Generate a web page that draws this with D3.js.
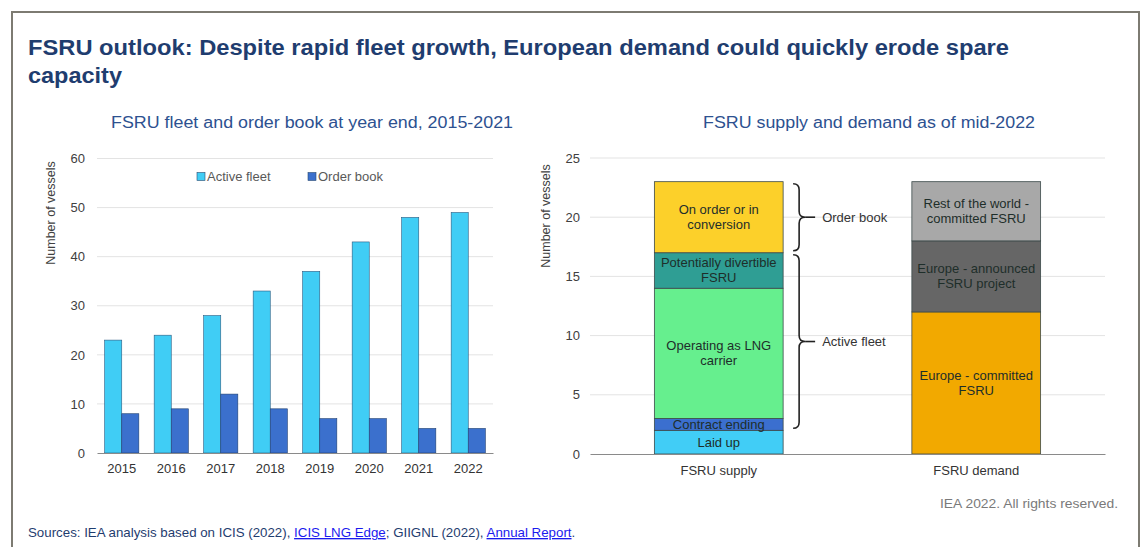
<!DOCTYPE html>
<html>
<head>
<meta charset="utf-8">
<script src="https://cdn.jsdelivr.net/npm/d3@7"></script>
<style>
  html, body { margin: 0; padding: 0; background: #fff; }
  svg { display: block; font-family: "Liberation Sans", Arial, sans-serif; }
</style>
</head>
<body>
<svg id="chart" width="1142" height="547"></svg>
<script>
// Left panel: fleet and order book by year
const years = ["2015", "2016", "2017", "2018", "2019", "2020", "2021", "2022"];
const activeFleet = [23, 24, 28, 33, 37, 43, 48, 49];
const orderBook = [8, 9, 12, 9, 7, 7, 5, 5];
const fleetTicks = [0, 10, 20, 30, 40, 50, 60];

// Right panel: stacked supply vs demand
const stackCategories = ["FSRU supply", "FSRU demand"];
const supplyLabels = [["Laid up"], ["Contract ending"], ["Operating as LNG", "carrier"], ["Potentially divertible", "FSRU"], ["On order or in", "conversion"]];
const supplyValues = [2, 1, 11, 3, 6];
const demandLabels = [["Europe - committed", "FSRU"], ["Europe - announced", "FSRU project"], ["Rest of the world -", "committed FSRU"]];
const demandValues = [12, 6, 5];
const balanceTicks = [0, 5, 10, 15, 20, 25];
const braceGroups = [
  { label: "Active fleet", from: 2, to: 17 },
  { label: "Order book", from: 17, to: 23 }
];

const supplyColors = ["#41cdf6", "#3b6fcf", "#66ef8e", "#2f9e94", "#fcd02a"];
const demandColors = ["#f2a900", "#666666", "#a8a8a8"];

const svg = d3.select("#chart");

// Outer frame
svg.append("path")
  .attr("d", "M12,560 V12 H1139 V560")
  .attr("fill", "none").attr("stroke", "#7d7b72").attr("stroke-width", 2);

// Title
const titleColor = "#1f3d6f";
svg.append("text").attr("x", 28).attr("y", 55)
  .attr("font-size", 22.5).attr("font-weight", "bold").attr("fill", titleColor)
  .attr("textLength", 981).attr("lengthAdjust", "spacingAndGlyphs")
  .text("FSRU outlook: Despite rapid fleet growth, European demand could quickly erode spare");
svg.append("text").attr("x", 28).attr("y", 83)
  .attr("font-size", 22.5).attr("font-weight", "bold").attr("fill", titleColor)
  .attr("textLength", 94).attr("lengthAdjust", "spacingAndGlyphs")
  .text("capacity");

const subColor = "#2d5190";
svg.append("text").attr("x", 111).attr("y", 128)
  .attr("font-size", 17.3).attr("fill", subColor)
  .attr("textLength", 402).attr("lengthAdjust", "spacingAndGlyphs")
  .text("FSRU fleet and order book at year end, 2015-2021");
svg.append("text").attr("x", 703).attr("y", 128)
  .attr("font-size", 17.3).attr("fill", subColor)
  .attr("textLength", 332).attr("lengthAdjust", "spacingAndGlyphs")
  .text("FSRU supply and demand as of mid-2022");

// ---------- Left panel ----------
const L = { left: 97, right: 493, top: 158.5, bottom: 453 };
const xYear = d3.scaleBand().domain(years).range([L.left, L.right]).paddingInner(0.31).paddingOuter(0.155);
const yFleet = d3.scaleLinear().domain([0, 60]).range([L.bottom, L.top]);

const gl = svg.append("g");
gl.append("g").selectAll("line").data(fleetTicks.filter(t => t > 0)).join("line")
  .attr("x1", L.left).attr("x2", L.right)
  .attr("y1", d => yFleet(d)).attr("y2", d => yFleet(d))
  .attr("stroke", "#e3e3e3").attr("stroke-width", 1);

const yAxisL = gl.append("g").attr("transform", `translate(${L.left},0)`)
  .call(d3.axisLeft(yFleet).tickValues(fleetTicks).tickSize(0).tickPadding(12));
yAxisL.select(".domain").remove();
yAxisL.selectAll("text").attr("font-size", 13).attr("fill", "#404040").attr("font-family", "Liberation Sans, Arial, sans-serif");

const bw = xYear.bandwidth() / 2;
gl.append("g").selectAll("rect").data(years).join("rect")
  .attr("x", d => xYear(d)).attr("width", bw)
  .attr("y", (d, i) => yFleet(activeFleet[i]))
  .attr("height", (d, i) => yFleet(0) - yFleet(activeFleet[i]))
  .attr("fill", "#40cdf5").attr("stroke", "#2a5a80").attr("stroke-width", 0.6);
gl.append("g").selectAll("rect").data(years).join("rect")
  .attr("x", d => xYear(d) + bw).attr("width", bw)
  .attr("y", (d, i) => yFleet(orderBook[i]))
  .attr("height", (d, i) => yFleet(0) - yFleet(orderBook[i]))
  .attr("fill", "#3b70cd").attr("stroke", "#1f3f70").attr("stroke-width", 0.6);

const xAxisL = gl.append("g").attr("transform", `translate(0,${L.bottom})`)
  .call(d3.axisBottom(xYear).tickSize(0).tickPadding(11));
xAxisL.select(".domain").attr("stroke", "#8a8a8a").attr("stroke-width", 1.2);
xAxisL.selectAll("text").attr("font-size", 13).attr("fill", "#333").attr("font-family", "Liberation Sans, Arial, sans-serif");

svg.append("text")
  .attr("transform", `translate(55,${213}) rotate(-90)`)
  .attr("text-anchor", "middle").attr("font-size", 12.5).attr("fill", "#404040")
  .text("Number of vessels");

// Legend
const legendItems = [["Active fleet", "#40cdf5", 197], ["Order book", "#3b70cd", 308]];
legendItems.forEach(([name, col, x]) => {
  svg.append("rect").attr("x", x).attr("y", 172.5).attr("width", 8).attr("height", 8)
    .attr("fill", col).attr("stroke", "#2a4a70").attr("stroke-width", 0.6);
  svg.append("text").attr("x", x + 10).attr("y", 181).attr("font-size", 13).attr("fill", "#595959").text(name);
});

// ---------- Right panel ----------
const R = { left: 590, right: 1105, top: 158, bottom: 454 };
const xCat = d3.scaleBand().domain(stackCategories).range([R.left, R.right]).paddingInner(0.5).paddingOuter(0.25);
const yBal = d3.scaleLinear().domain([0, 25]).range([R.bottom, R.top]);

const gr = svg.append("g");
gr.append("g").selectAll("line").data(balanceTicks.filter(t => t > 0)).join("line")
  .attr("x1", R.left).attr("x2", R.right)
  .attr("y1", d => yBal(d)).attr("y2", d => yBal(d))
  .attr("stroke", "#e3e3e3").attr("stroke-width", 1);

const yAxisR = gr.append("g").attr("transform", `translate(${R.left},0)`)
  .call(d3.axisLeft(yBal).tickValues(balanceTicks).tickSize(0).tickPadding(10));
yAxisR.select(".domain").remove();
yAxisR.selectAll("text").attr("font-size", 13).attr("fill", "#404040").attr("font-family", "Liberation Sans, Arial, sans-serif");

function drawStack(cat, values, labels, colors) {
  const starts = [0];
  values.forEach((v, i) => starts.push(starts[i] + v));
  const x0 = xCat(cat), w = xCat.bandwidth();
  const g = gr.append("g");
  g.selectAll("rect").data(values).join("rect")
    .attr("x", x0).attr("width", w)
    .attr("y", (d, i) => yBal(starts[i] + d))
    .attr("height", (d, i) => yBal(starts[i]) - yBal(starts[i] + d))
    .attr("fill", (d, i) => colors[i])
    .attr("stroke", "#3c4a4a").attr("stroke-width", 0.8);
  values.forEach((v, i) => {
    const cy = yBal(starts[i] + v / 2);
    const lines = labels[i];
    const t = g.append("text").attr("text-anchor", "middle").attr("font-size", 13).attr("fill", "#1e2e2a");
    lines.forEach((ln, k) => {
      t.append("tspan").attr("x", x0 + w / 2)
        .attr("y", cy + 4.5 + (k - (lines.length - 1) / 2) * 15)
        .text(ln);
    });
  });
}
drawStack("FSRU supply", supplyValues, supplyLabels, supplyColors);
drawStack("FSRU demand", demandValues, demandLabels, demandColors);

const xAxisR = gr.append("g").attr("transform", `translate(0,${R.bottom})`)
  .call(d3.axisBottom(xCat).tickSize(0).tickPadding(12));
xAxisR.select(".domain").attr("stroke", "#8a8a8a").attr("stroke-width", 1.2);
xAxisR.selectAll("text").attr("font-size", 13).attr("fill", "#333").attr("font-family", "Liberation Sans, Arial, sans-serif");

svg.append("text")
  .attr("transform", `translate(550,${216}) rotate(-90)`)
  .attr("text-anchor", "middle").attr("font-size", 12.5).attr("fill", "#404040")
  .text("Number of vessels");

// Curly braces grouping the supply stack
function bracePath(x, yTop, yBot, w) {
  const ym = (yTop + yBot) / 2, r = 6;
  return `M${x},${yTop} Q${x + r},${yTop} ${x + r},${yTop + r}` +
    ` L${x + r},${ym - r} Q${x + r},${ym} ${x + w},${ym}` +
    ` Q${x + r},${ym} ${x + r},${ym + r}` +
    ` L${x + r},${yBot - r} Q${x + r},${yBot} ${x},${yBot}`;
}
const braceX = xCat("FSRU supply") + xCat.bandwidth() + 10;
braceGroups.forEach(bg => {
  const yTop = yBal(bg.to) + 2, yBot = yBal(bg.from) - 2;
  gr.append("path").attr("d", bracePath(braceX, yTop, yBot, 12))
    .attr("fill", "none").attr("stroke", "#222").attr("stroke-width", 1.6);
  gr.append("line").attr("x1", braceX + 12).attr("x2", braceX + 22)
    .attr("y1", (yTop + yBot) / 2).attr("y2", (yTop + yBot) / 2)
    .attr("stroke", "#222").attr("stroke-width", 1.6);
  gr.append("text").attr("x", braceX + 29).attr("y", (yTop + yBot) / 2 + 4.5)
    .attr("font-size", 13).attr("fill", "#333").text(bg.label);
});

// Footer
svg.append("text").attr("x", 1118).attr("y", 508).attr("text-anchor", "end")
  .attr("font-size", 13).attr("fill", "#7a7a7a")
  .attr("textLength", 178).attr("lengthAdjust", "spacingAndGlyphs")
  .text("IEA 2022. All rights reserved.");

const src = svg.append("text").attr("x", 28).attr("y", 537).attr("font-size", 13.3).attr("fill", "#1f3d6f");
src.append("tspan").text("Sources: IEA analysis based on ICIS (2022), ");
src.append("tspan").attr("fill", "#1a1aee").attr("text-decoration", "underline").text("ICIS LNG Edge");
src.append("tspan").text("; GIIGNL (2022), ");
src.append("tspan").attr("fill", "#1a1aee").attr("text-decoration", "underline").text("Annual Report");
src.append("tspan").text(".");
</script>
</body>
</html>
